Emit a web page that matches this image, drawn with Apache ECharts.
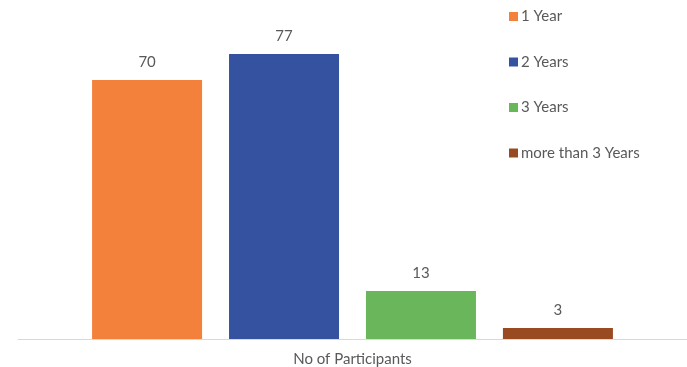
<!DOCTYPE html>
<html>
<head>
<meta charset="utf-8">
<script src="https://cdn.jsdelivr.net/npm/echarts@6/dist/echarts.min.js"></script>
<style>
  html, body { margin: 0; padding: 0; background: #fff; }
  #chart { width: 687px; height: 367px; }
</style>
</head>
<body>
<div id="chart"></div>
<script>
// Participants grouped by years of experience
const categories = ['No of Participants'];
const seriesNames = ['1 Year', '2 Years', '3 Years', 'more than 3 Years'];
const seriesValues = [[70], [77], [13], [3]];
const seriesColors = ['#F4813B', '#3452A0', '#6AB75B', '#9A4A21'];

const textColor = '#595959';
const fontFamily = 'Lato, "Open Sans", sans-serif';

const chart = echarts.init(document.getElementById('chart'));
chart.setOption({
  animation: false,
  textStyle: { fontFamily: fontFamily },
  legend: {
    orient: 'vertical',
    left: 504,
    top: 4,
    itemWidth: 9,
    itemHeight: 9,
    itemGap: 30.5,
    icon: 'rect',
    textStyle: { color: textColor, fontSize: 15, fontFamily: fontFamily, padding: [0, 0, 0, -2] },
    data: seriesNames
  },
  grid: { left: 18, right: 0, top: 6, bottom: 27 },
  xAxis: {
    type: 'category',
    data: categories,
    axisLine: { show: true, lineStyle: { color: '#D9D9D9', width: 1 } },
    axisTick: { show: false },
    axisLabel: { color: textColor, fontSize: 15, margin: 13, fontFamily: fontFamily }
  },
  yAxis: {
    type: 'value',
    min: 0,
    max: 90,
    show: false
  },
  series: seriesNames.map((name, i) => ({
    name: name,
    type: 'bar',
    data: seriesValues[i],
    barWidth: 110,
    barGap: '24.5%',
    itemStyle: { color: seriesColors[i] },
    label: {
      show: true,
      position: 'top',
      distance: 10,
      color: textColor,
      fontSize: 15,
      fontFamily: fontFamily
    }
  }))
});
</script>
</body>
</html>
